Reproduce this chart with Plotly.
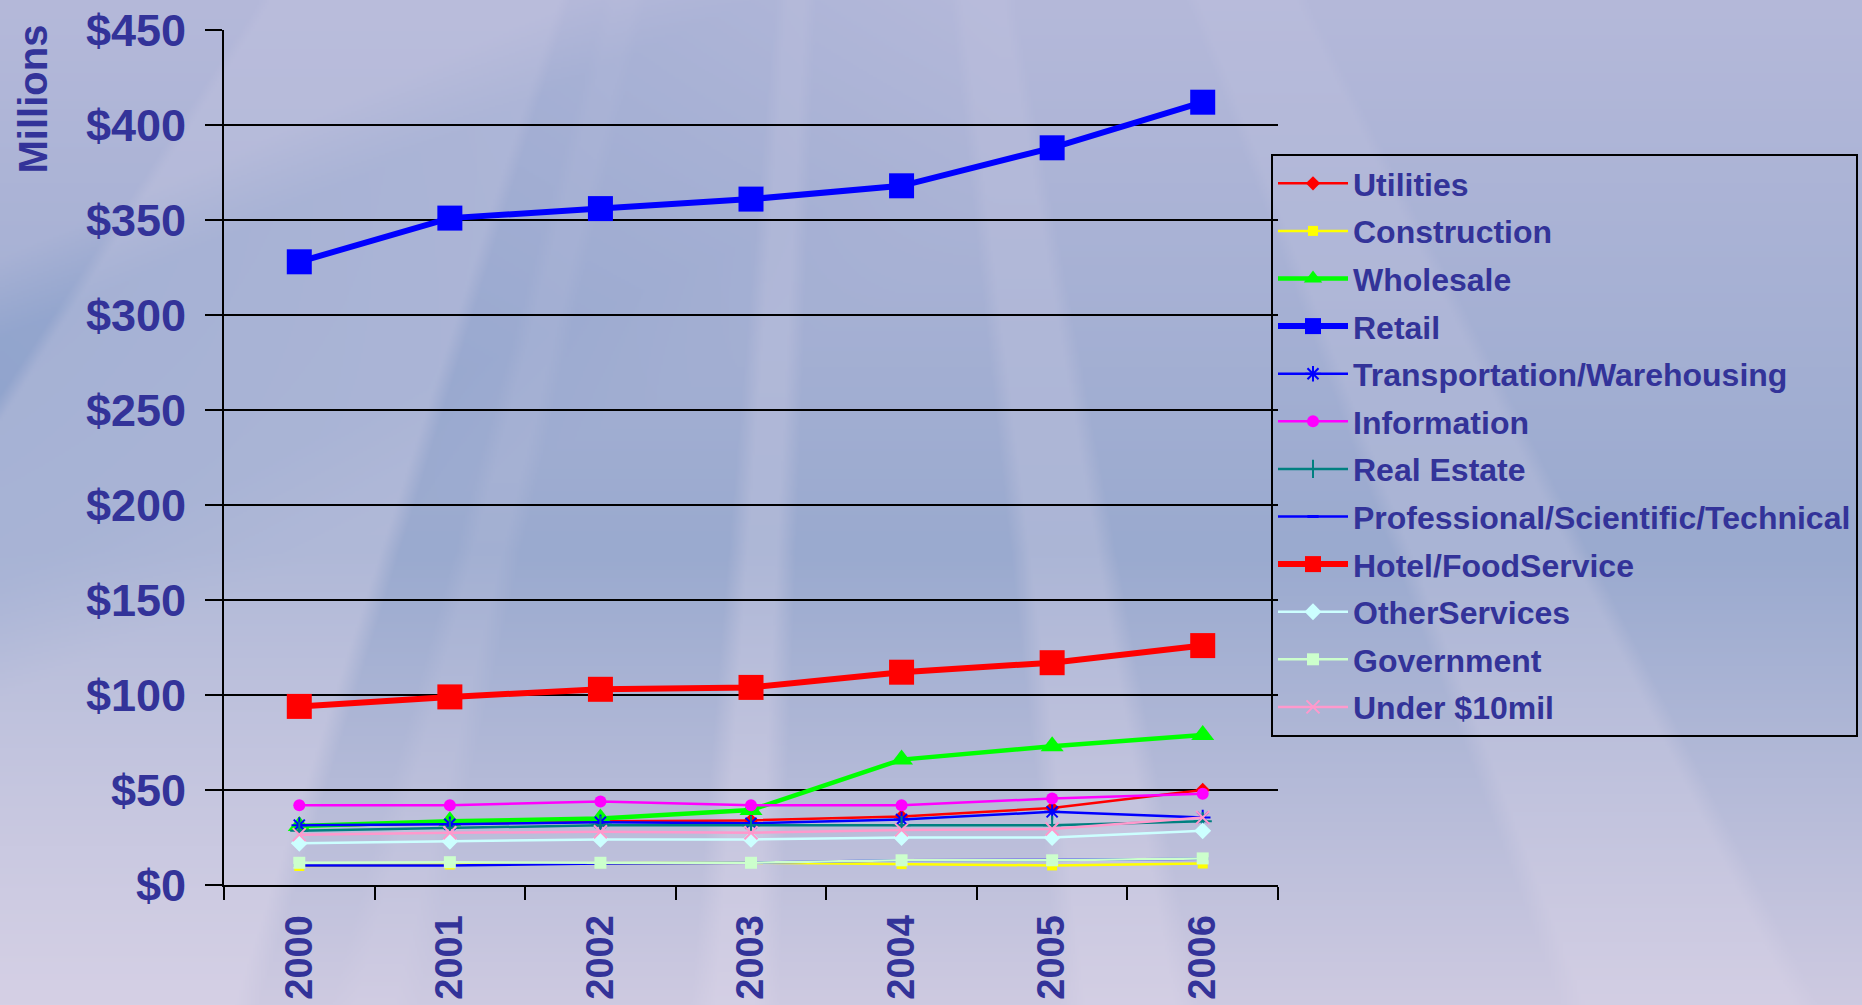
import base64
import struct
import zlib

import numpy as np
import plotly.graph_objects as go

# ---------------- data ----------------
years = ["2000", "2001", "2002", "2003", "2004", "2005", "2006"]
utilities = [31, 32.5, 33.5, 34, 36, 40.5, 50]
construction = [10, 10.8, 11.5, 11.7, 11, 10.3, 11.3]
wholesale = [31, 33.5, 35, 39.5, 66, 73, 79]
retail = [328, 351, 356, 361, 368, 388, 412]
transportation = [31.5, 32, 33, 32.5, 34.5, 38.5, 35.5]
information = [42, 42, 44, 42, 42, 45.5, 48]
real_estate = [28.5, 30, 31.5, 31.5, 31.5, 31.5, 33.5]
professional = [10.3, 10.3, 11.3, 11.7, 13, 13.2, 13.8]
hotel = [94, 99, 103, 104, 112, 117, 126]
other_services = [22, 23, 24, 24, 25, 25, 28.5]
government = [11.7, 12, 11.7, 11.7, 13, 13, 14]
under10 = [26.5, 27.5, 28, 27.5, 29, 29.5, 35.5]
y_ticks = [0, 50, 100, 150, 200, 250, 300, 350, 400, 450]
y_labels = ["$" + str(v) for v in y_ticks]

# ---------------- page geometry ----------------
W, H = 1862, 1005
ML, MR, MT, MB = 224, 584, 30, 120
PW, PH = W - ML - MR, H - MT - MB
TXT = "#333399"
FONT = "Liberation Sans, Arial, sans-serif"


# ---------------- procedural background ----------------
def make_background():
    s = 2
    w, h = W // s, H // s + 1
    X = (np.arange(w) + 0.5) * s
    Y = (np.arange(h) + 0.5) * s
    X, Y = np.meshgrid(X, Y)
    t = (Y / H)[..., None]
    top = np.array([181, 185, 218.0])
    mid = np.array([154, 170, 207.0])
    bot = np.array([206, 202, 225.0])
    img = np.where(t < 0.55, top + (mid - top) * (t / 0.55),
                   mid + (bot - mid) * ((t - 0.55) / 0.45))
    # dark diagonal band on the left
    d = Y + 0.45 * X
    band = np.clip((d - 260) / 80, 0, 1) * np.clip((700 - d) / 120, 0, 1)
    wgt = (band * np.clip(1 - X / 1000, 0, 1) * 0.6)[..., None]
    img = img * (1 - wgt) + np.array([135, 158, 202.0]) * wgt
    # light rays from a vanishing point above the page
    vx, vy = 850.0, -900.0
    u = vx + (X - vx) * (H - vy) / (Y - vy)
    light = np.array([220, 214, 233.0])
    for a, b, amp in [(-400, 260, 0.5), (690, 780, 0.45),
                      (1060, 1200, 0.40), (1560, 1820, 0.35),
                      (330, 420, 0.2)]:
        m = np.clip((u - a) / 25, 0, 1) * np.clip((b - u) / 25, 0, 1)
        m = m * (0.25 + 0.75 * (Y / H))
        m = (m * amp)[..., None]
        img = img * (1 - m) + light * m
    arr = np.clip(img, 0, 255).astype(np.uint8)

    hh, ww, _ = arr.shape
    raw = b"".join(b"\x00" + arr[i].tobytes() for i in range(hh))

    def chunk(tag, data):
        c = struct.pack(">I", len(data)) + tag + data
        return c + struct.pack(">I", zlib.crc32(tag + data) & 0xFFFFFFFF)

    png = (b"\x89PNG\r\n\x1a\n"
           + chunk(b"IHDR", struct.pack(">IIBBBBB", ww, hh, 8, 2, 0, 0, 0))
           + chunk(b"IDAT", zlib.compress(raw, 9))
           + chunk(b"IEND", b""))
    return "data:image/png;base64," + base64.b64encode(png).decode()


# ---------------- traces ----------------
series = [
    ("Utilities", utilities, "#FF0000", 2.5, dict(symbol="diamond", size=11)),
    ("Construction", construction, "#FFFF00", 2.5, dict(symbol="square", size=10)),
    ("Wholesale", wholesale, "#00FF00", 4.5, dict(symbol="triangle-up", size=20)),
    ("Retail", retail, "#0000FF", 6, dict(symbol="square", size=25)),
    ("Transportation/Warehousing", transportation, "#0000FF", 2.5,
     dict(symbol="asterisk-open", size=13, line=dict(width=2, color="#0000FF"))),
    ("Information", information, "#FF00FF", 2.5, dict(symbol="circle", size=12)),
    ("Real Estate", real_estate, "#008080", 2.5,
     dict(symbol="cross-thin-open", size=13, line=dict(width=2, color="#008080"))),
    ("Professional/Scientific/Technical", professional, "#0000FF", 2.5,
     dict(symbol="line-ew-open", size=8, line=dict(width=3, color="#0000FF"))),
    ("Hotel/FoodService", hotel, "#FF0000", 6, dict(symbol="square", size=25)),
    ("OtherServices", other_services, "#CCFFFF", 2.5, dict(symbol="diamond", size=13)),
    ("Government", government, "#CCFFCC", 2.5, dict(symbol="square", size=12)),
    ("Under $10mil", under10, "#FF99CC", 2.5,
     dict(symbol="x-thin-open", size=13, line=dict(width=2, color="#FF99CC"))),
]

fig = go.Figure()
for name, vals, color, lw, mk in series:
    mk = dict(mk)
    mk.setdefault("color", color)
    fig.add_trace(go.Scatter(
        x=years, y=vals, name=name, mode="lines+markers",
        line=dict(color=color, width=lw), marker=mk,
        legendgroup=name,
    ))

fig.update_layout(
    width=W, height=H,
    margin=dict(l=ML, r=MR, t=MT, b=MB, autoexpand=False),
    paper_bgcolor="#aab4d6",
    plot_bgcolor="rgba(0,0,0,0)",
    font=dict(family=FONT, color=TXT, size=20),
    showlegend=True,
    legend=dict(
        x=(1271 - ML) / PW, y=(H - MB - 154) / PH, xanchor="left", yanchor="top",
        bgcolor="rgba(0,0,0,0)", bordercolor="black", borderwidth=2,
        font=dict(family=FONT, size=32, color=TXT, weight="bold"),
        tracegroupgap=3, traceorder="grouped", itemwidth=70,
    ),
    xaxis=dict(
        type="category", range=[-0.5, 6.5], tickson="boundaries",
        ticks="outside", ticklen=13, tickwidth=2, tickcolor="black",
        showline=True, linecolor="black", linewidth=2, showgrid=False,
        tickangle=-90, zeroline=False, ticklabelstandoff=13,
        tickfont=dict(family=FONT, size=38, color=TXT, weight="bold"),
    ),
    yaxis=dict(
        range=[0, 450], tickmode="array", tickvals=y_ticks, ticktext=y_labels,
        ticks="outside", ticklen=17, tickwidth=1.5, tickcolor="black",
        showline=True, linecolor="black", linewidth=2,
        showgrid=True, gridcolor="black", gridwidth=1.5, zeroline=False,
        ticklabelstandoff=10,
        tickfont=dict(family=FONT, size=45, color=TXT, weight="bold"),
    ),
    images=[dict(
        source=make_background(), xref="paper", yref="paper",
        x=-ML / PW, y=1 + MT / PH, sizex=W / PW, sizey=H / PH,
        xanchor="left", yanchor="top", sizing="stretch", layer="below",
    )],
    annotations=[dict(
        text="Millions", textangle=-90, showarrow=False,
        xref="paper", yref="paper", x=(32 - ML) / PW, y=(H - MB - 176) / PH,
        xanchor="center", yanchor="bottom",
        font=dict(family=FONT, size=40, color=TXT, weight="bold"),
    )],
)

fig.write_html(
    "out.html",
    config={"displayModeBar": False},
    post_script="document.body.style.margin='0px';document.body.style.overflow='hidden';",
)
